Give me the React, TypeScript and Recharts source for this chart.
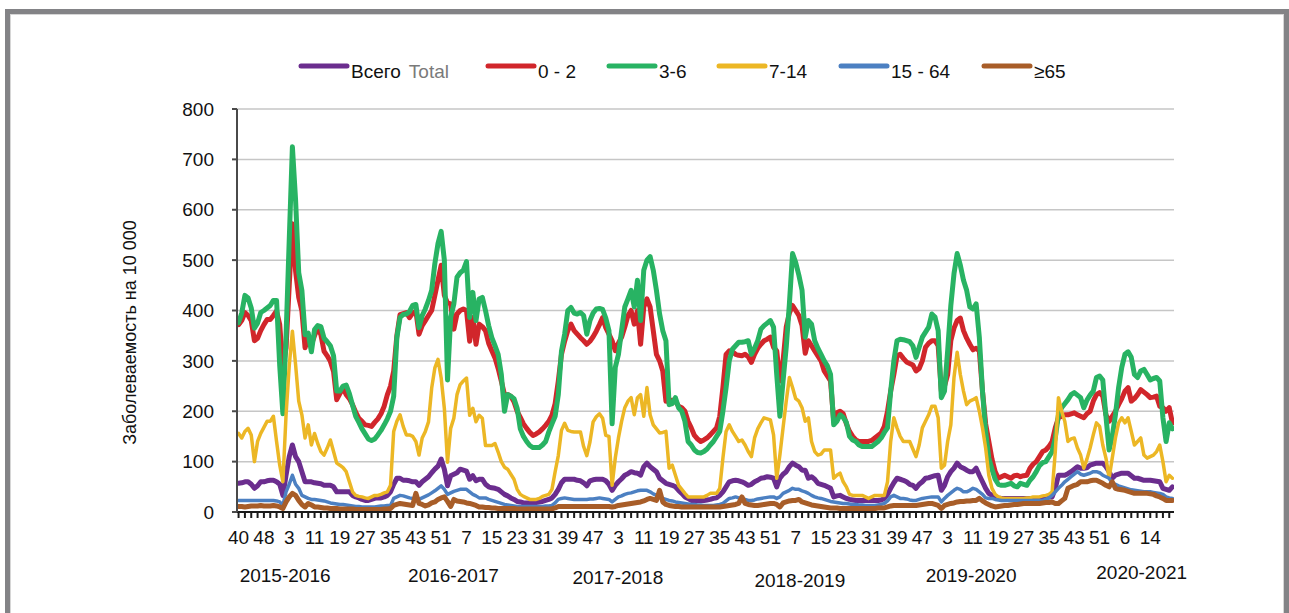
import React from 'react';
import { LineChart, Line, XAxis, YAxis, CartesianGrid, Legend } from 'recharts';

const FONT = "'Liberation Sans', Arial, sans-serif";

// Week tick labels (every 8th week, starting 2015 week 40)
const weekTickLabels = ['40','48','3','11','19','27','35','43','51','7','15','23','31','39','47','3','11','19','27','35','43','51','7','15','23','31','39','47','3','11','19','27','35','43','51','6','14'];
const seasonLabels = ['2015-2016','2016-2017','2017-2018','2018-2019','2019-2020','2020-2021'];
const seasonTickPos = [14.7, 67.9, 119.8, 177.3, 231.4, 285.3];
const seasonBaseline = [40, 40, 42, 45, 40, 37];

const seriesNames = ['Всего', '0 - 2', '3-6', '7-14', '15 - 64', '≥65'];
const colors = ['#6b2d8e', '#d1262b', '#28b363', '#ecb725', '#4c80c2', '#a85d28'];
const widths = [5, 5, 5, 3.5, 3.5, 5];

const vTotal = [
57,58,60,60,55,47,52,60,60,62,
63,63,60,55,33,73,110,133,110,100,
80,60,60,60,58,57,56,53,53,53,
50,40,40,40,40,40,33,30,28,25,
23,23,25,27,28,28,30,33,40,55,
67,67,63,63,62,60,60,53,60,65,
70,78,85,91,105,85,52,72,75,78,
85,83,81,65,72,62,65,65,55,50,
48,47,45,40,35,32,28,25,21,20,
18,18,18,18,19,20,21,23,25,28,
35,45,58,65,65,65,65,63,62,58,
52,62,64,65,65,65,62,55,43,53,
60,66,73,76,80,78,77,73,90,97,
90,85,80,67,62,57,55,53,50,43,
37,30,27,23,23,23,23,23,24,25,
27,28,33,40,50,60,62,63,62,60,
57,53,55,60,63,67,68,70,69,67,
50,67,75,80,90,97,93,90,83,83,
67,70,65,57,55,53,50,47,30,32,
33,30,27,25,24,23,23,23,23,23,
23,23,23,24,27,35,47,58,67,65,
63,60,55,53,47,55,60,67,68,70,
72,73,43,53,70,80,87,97,90,87,
83,80,80,87,73,60,47,37,33,30,
28,27,27,27,27,27,27,27,27,27,
27,27,27,27,28,29,30,30,47,73,
73,73,76,80,85,90,87,87,88,93,
95,97,97,97,90,80,67,73,75,77,
77,77,72,67,67,65,63,63,63,62,
61,60,47,45,43,50];

const v02 = [
372,380,396,390,380,340,345,360,372,382,
382,390,399,372,285,326,450,572,479,426,
399,326,346,332,350,366,352,319,310,299,
279,223,235,246,233,225,213,198,186,180,
173,172,170,178,185,195,210,233,250,280,
350,392,394,396,386,395,399,353,370,380,
390,400,430,460,490,430,415,413,363,393,
400,403,400,339,386,333,373,368,360,335,
320,306,285,260,233,233,230,219,200,188,
175,166,158,152,155,159,165,172,180,192,
215,260,313,339,360,373,360,353,346,340,
333,339,348,359,372,386,366,353,340,320,
335,347,367,390,400,373,400,333,407,423,
407,360,313,300,280,220,220,222,220,210,
207,200,180,167,152,145,140,143,147,153,
160,167,190,247,313,320,318,313,311,310,
313,308,297,313,325,333,340,343,347,327,
320,260,300,367,395,410,400,390,370,315,
340,330,320,310,300,280,270,260,180,197,
200,195,175,160,150,143,140,140,140,140,
142,147,152,157,170,200,240,273,310,313,
305,298,295,292,280,285,300,327,335,340,
340,330,240,250,273,340,365,380,385,360,
345,333,322,325,320,240,175,140,105,80,
67,70,73,70,67,72,73,70,72,73,
87,95,100,110,120,123,130,140,167,187,
190,193,193,195,197,193,190,187,195,200,
220,233,237,230,193,180,190,200,213,225,
240,247,220,225,233,243,238,233,227,228,
230,210,207,200,207,177];

const v36 = [
376,395,430,425,405,365,375,396,400,405,
410,420,420,290,195,350,540,725,620,475,
440,352,355,318,362,370,368,345,338,330,
310,240,240,250,252,235,212,190,178,165,
155,145,142,145,153,162,173,185,200,230,
346,386,392,393,398,410,412,366,390,403,
420,440,493,533,557,500,262,386,413,466,
475,480,497,386,436,380,423,426,400,370,
346,330,313,273,200,233,230,225,206,165,
150,140,132,128,128,128,133,140,159,175,
190,233,319,353,400,406,395,393,396,390,
353,380,395,403,404,402,385,360,175,287,
313,360,407,423,440,407,460,380,480,500,
507,480,440,393,360,340,213,215,227,207,
200,180,140,133,123,118,117,120,125,133,
140,150,160,200,247,300,323,330,337,337,
338,340,313,325,340,363,370,375,380,367,
273,190,260,327,413,513,495,470,440,347,
380,373,340,325,313,300,290,273,173,180,
193,188,178,150,143,140,133,130,130,130,
130,135,140,147,158,167,240,300,340,343,
342,340,338,330,307,327,347,357,367,393,
387,360,227,240,320,410,473,513,490,460,
440,407,403,413,347,240,160,107,85,65,
55,53,53,55,57,52,50,57,55,53,
63,70,80,92,98,100,110,120,147,193,
207,215,223,233,237,232,227,207,222,232,
240,267,270,262,190,123,150,193,247,287,
313,318,307,273,267,280,283,273,262,265,
267,260,187,140,177,165];

const v714 = [
156,147,160,166,153,100,140,156,168,180,
180,190,140,93,60,193,290,359,293,220,
193,147,173,133,156,136,120,113,127,143,
120,97,93,88,80,60,40,33,31,30,
28,27,30,33,33,35,38,40,53,160,
180,193,170,153,153,150,140,113,147,160,
179,246,286,303,266,206,99,166,186,233,
253,260,266,192,206,179,192,186,132,132,
132,136,119,100,89,85,75,65,45,35,
31,28,25,25,25,27,31,33,35,45,
80,112,162,176,162,160,159,159,159,130,
112,139,179,189,195,186,152,150,53,107,
147,180,207,220,227,193,227,233,190,247,
193,173,165,157,158,160,87,93,73,53,
45,37,30,30,30,30,30,30,33,37,
37,37,47,107,160,173,160,150,140,143,
133,120,110,147,165,177,187,185,183,153,
67,113,167,220,267,247,225,220,207,180,
187,140,120,113,115,123,123,123,67,73,
77,60,50,35,33,33,33,33,30,27,
30,33,33,33,33,60,140,187,167,150,
140,140,140,125,110,133,167,180,193,210,
210,187,87,93,140,173,267,317,273,240,
213,220,223,227,200,167,127,73,47,35,
30,28,27,27,27,27,27,27,27,28,
28,30,30,30,32,33,35,40,120,227,
200,180,140,145,147,127,113,87,105,127,
153,177,170,133,107,67,107,147,177,187,
177,187,160,133,140,147,113,107,110,113,
120,133,100,60,73,67];

const v1564 = [
23,23,23,23,23,23,23,23,23,23,
23,23,22,20,13,40,55,73,55,47,
33,30,27,25,25,24,23,22,20,18,
17,16,15,15,14,13,12,11,11,10,
10,10,10,10,11,12,12,13,13,27,
30,33,32,30,28,27,27,25,28,31,
34,38,42,47,52,45,35,38,41,43,
45,45,45,40,35,32,28,28,28,25,
23,21,19,17,15,14,13,12,11,11,
11,11,11,11,11,11,11,12,12,13,
18,25,27,28,27,26,25,25,25,25,
25,26,26,27,28,27,26,25,20,25,
30,32,35,37,38,40,42,43,43,43,
40,36,33,30,27,25,23,22,20,19,
18,17,16,15,15,14,14,13,13,13,
13,14,15,17,22,27,28,30,28,26,
25,23,23,24,26,27,28,29,30,30,
27,30,37,40,43,47,45,45,42,40,
37,33,30,28,27,25,23,21,20,19,
18,17,17,16,15,15,14,14,13,13,
13,13,14,15,17,22,30,33,30,27,
27,26,24,23,23,25,27,28,29,30,
30,30,20,27,33,38,43,47,45,40,
40,43,47,45,40,35,28,27,27,25,
24,23,23,23,23,23,23,23,23,23,
23,23,23,23,23,25,28,33,40,47,
53,60,65,70,75,80,75,73,75,77,
80,80,78,73,70,67,57,55,52,50,
48,46,44,43,42,41,40,40,40,39,
38,37,35,30,28,27];

const v65 = [
11,11,10,11,12,12,12,13,12,12,
12,13,12,10,7,20,30,37,33,23,
15,10,17,14,10,10,9,8,8,7,
7,7,6,6,6,6,6,5,5,5,
5,5,5,5,5,5,6,6,7,13,
15,17,16,15,14,13,37,17,15,12,
14,18,20,25,28,30,21,11,25,22,
21,20,18,17,15,13,10,10,9,9,
8,8,7,7,7,7,7,7,6,6,
6,6,6,6,6,6,6,6,6,6,
8,11,11,11,11,11,11,11,11,11,
11,11,11,11,11,11,11,11,10,11,
13,14,15,16,17,18,19,20,22,25,
27,25,23,43,20,15,13,12,11,11,
10,10,10,10,10,10,10,10,10,10,
10,10,10,11,12,13,14,15,17,30,
17,15,14,13,13,14,15,16,17,17,
15,10,18,20,22,23,23,25,20,18,
16,14,13,12,11,10,9,8,8,8,
7,7,7,7,7,7,7,7,7,7,
7,7,8,8,8,10,12,13,13,13,
13,13,13,13,13,14,15,16,17,17,
15,13,7,13,15,17,18,20,21,21,
22,22,23,23,27,22,18,15,12,10,
11,12,13,13,14,15,15,16,17,17,
17,17,17,17,18,19,19,20,17,17,
22,27,47,50,53,55,60,60,60,62,
63,63,60,57,53,50,60,47,45,44,
43,41,39,37,37,37,37,37,36,35,
32,30,27,23,23,23];

const keys = ['total', 'a02', 'a36', 'a714', 'a1564', 'a65'];
const seriesArrays = [vTotal, v02, v36, v714, v1564, v65];

const data = v02.map((_, i) => {
  const row: any = { i };
  keys.forEach((k, s) => { row[k] = seriesArrays[s][i]; });
  return row;
});

const minorTicks: number[] = [];
for (let k = 0; k < data.length; k += 2) minorTicks.push(k);

const yTicks = [0, 100, 200, 300, 400, 500, 600, 700, 800];

const legendLineX = [301, 488, 609, 719, 841, 984];

const renderLegend = () => (
  <svg width={1289} height={40} style={{ display: 'block' }}>
    {seriesNames.map((name, k) => (
      <g key={k}>
        <line x1={legendLineX[k]} y1={16} x2={legendLineX[k] + 46} y2={16} stroke={colors[k]} strokeWidth={5} strokeLinecap="round" />
        <text x={legendLineX[k] + 50} y={28} fontFamily={FONT} fontSize={19} fill="#111">
          {name}
          {k === 0 ? <tspan fill="#7a7a7a" dx={8}>Total</tspan> : null}
        </text>
      </g>
    ))}
  </svg>
);

const SeasonTick = (props: any) => {
  const { x, y, payload, index } = props;
  const k = seasonTickPos.indexOf(payload.value);
  const idx = k >= 0 ? k : index;
  return (
    <text x={x} y={y + seasonBaseline[idx]} textAnchor="middle" fontFamily={FONT} fontSize={19} fill="#111">
      {seasonLabels[idx]}
    </text>
  );
};

const YLabel = (p: any) => {
  const vb = p.viewBox || { x: 100, y: 109, width: 137, height: 403 };
  const cx = vb.x + 30;
  const cy = vb.y + vb.height / 2 + 22;
  return (
    <text x={cx} y={cy} transform={`rotate(-90, ${cx}, ${cy})`} textAnchor="middle" dominantBaseline="central" fontFamily={FONT} fontSize={18} fill="#111">
      Заболеваемость на 10 000
    </text>
  );
};

export default function App() {
  return (
    <div style={{ position: 'absolute', left: 0, top: 0, width: 1289, height: 613, background: '#fff', overflow: 'hidden' }}>
      <div style={{ position: 'absolute', left: 5, top: 9, width: 1274, height: 700, border: '5px solid #838386', boxShadow: 'inset 0 0 0 1px #d6d6d6' }} />
      <div style={{ position: 'absolute', left: 0, top: 0 }}>
        <LineChart width={1289} height={613} data={data} margin={{ top: 109, right: 115, bottom: 31, left: 100 }}>
          <CartesianGrid vertical={false} stroke="#c6c6c6" strokeWidth={1.5} />
          <XAxis
            dataKey="i"
            type="number"
            domain={[-0.5, 295.5]}
            allowDataOverflow
            ticks={minorTicks}
            interval={0}
            height={30}
            tickSize={6}
            tickMargin={13}
            stroke="#1a1a1a"
            strokeWidth={2}
            tick={{ fontSize: 19, fontFamily: FONT, fill: '#111' }}
            tickFormatter={(v: number) => (v % 8 === 0 ? weekTickLabels[v / 8] ?? '' : '')}
          />
          <XAxis
            xAxisId="season"
            dataKey="i"
            type="number"
            domain={[-0.5, 295.5]}
            allowDataOverflow
            ticks={seasonTickPos}
            interval={0}
            height={40}
            axisLine={false}
            tickLine={false}
            tickSize={0}
            tickMargin={0}
            tick={<SeasonTick />}
          />
          <YAxis
            type="number"
            domain={[0, 800]}
            ticks={yTicks}
            interval={0}
            width={137}
            tickSize={5}
            tickMargin={18}
            stroke="#4a4a4a"
            strokeWidth={2}
            tick={{ fontSize: 19, fontFamily: FONT, fill: '#111' }}
            label={{ content: YLabel }}
          />
          <Legend
            content={renderLegend}
            layout="horizontal"
            verticalAlign="middle"
            align="center"
            wrapperStyle={{ top: 50, left: 0, width: 1289, height: 40 }}
          />
          {keys.map((k, s) => (
            <Line
              key={k}
              type="linear"
              dataKey={k}
              name={seriesNames[s]}
              stroke={colors[s]}
              strokeWidth={widths[s]}
              strokeLinejoin="round"
              strokeLinecap="round"
              dot={false}
              activeDot={false}
              isAnimationActive={false}
            />
          ))}
        </LineChart>
      </div>
    </div>
  );
}
